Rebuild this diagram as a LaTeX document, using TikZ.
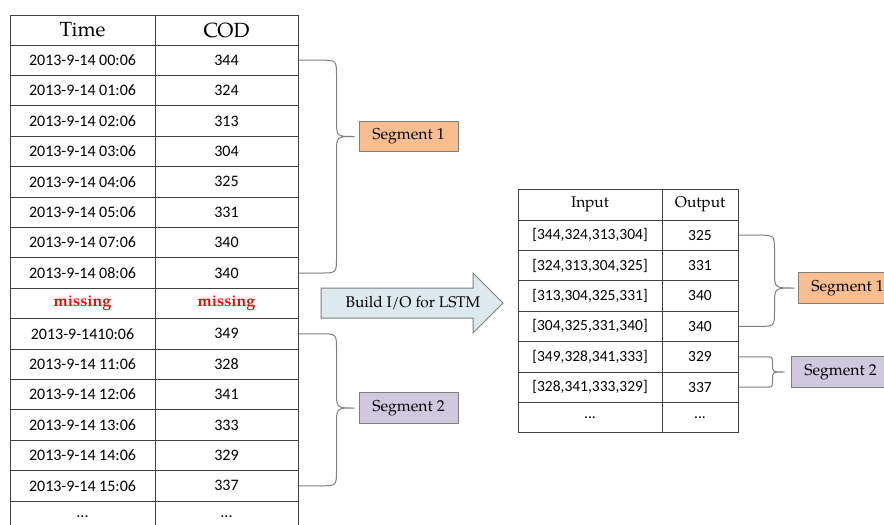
\documentclass[tikz,border=0pt]{standalone}
\usepackage{fontspec}
\setmainfont{Carlito}
\usetikzlibrary{calc}
% Palatino-like serif for headers and labels
\newfontfamily\palfont{TeX Gyre Pagella}

\definecolor{tablegray}{HTML}{404040}
\definecolor{braceline}{HTML}{7F7F7F}
\definecolor{segone}{HTML}{F9BE8F}
\definecolor{segtwo}{HTML}{CFC8DE}
\definecolor{arrowfill}{HTML}{DCE9EF}

\tikzset{
  cellbase/.style={draw=tablegray, line width=1pt, inner sep=0pt,
    minimum height=30.4pt, anchor=center, text=black},
  headcell/.style={cellbase, minimum height=30pt,
    font=\palfont\fontsize{20.5}{24}\selectfont},
  rheadcell/.style={cellbase, minimum height=31pt,
    font=\palfont\fontsize{15.5}{18}\selectfont},
  datcell/.style={cellbase, font=\fontsize{16}{19}\selectfont},
  rdatcell/.style={cellbase, font=\fontsize{15.5}{18}\selectfont},
  misscell/.style={cellbase, text=red,
    font=\palfont\bfseries\fontsize{16}{19}\selectfont},
  segbox/.style={draw=braceline, line width=1pt, inner sep=0pt,
    minimum width=99pt, minimum height=30.5pt,
    font=\palfont\fontsize{15.8}{19}\selectfont},
  segline/.style={draw=braceline, line width=1pt},
  arrowbody/.style={draw=braceline, line width=1pt, fill=arrowfill,
    line join=miter},
}

% curly brace from a top cell to a bottom cell, pointing at a segment box
% #1 top cell, #2 segment box, #3 bottom cell, #4 gap before box,
% #5 distance from spine to tip, #6 corner radius
\newcommand\segbrace[6]{%
  \draw[segline] let \p1=(#1.east), \p2=($(#2.west)+(-#4,0)$), \p3=(#3.east) in
    (\p1) -- (\x2-#5pt-#6pt,\y1)
      .. controls (\x2-#5pt,\y1) .. (\x2-#5pt,\y1-#6pt)
      -- (\x2-#5pt,\y2+#6pt)
      .. controls (\x2-#5pt,\y2) .. (\p2)
      .. controls (\x2-#5pt,\y2) .. (\x2-#5pt,\y2-#6pt)
      -- (\x2-#5pt,\y3+#6pt)
      .. controls (\x2-#5pt,\y3) .. (\x2-#5pt-#6pt,\y3)
      -- (\p3);}

\begin{document}
\begin{tikzpicture}[x=1pt, y=-1pt]
  \clip (0,0) rectangle (884,525);
  \fill[white] (0,0) rectangle (884,525);

  % ---- raw series table ----
  \node[headcell, minimum width=145pt] (Lth) at (82.5,30) {Time};
  \node[headcell, minimum width=143pt] (Lch) at (226.5,30) {COD};
  \foreach \tm/\cv/\st [count=\i from 0] in {
      2013-9-14 00:06/344/datcell, 2013-9-14 01:06/324/datcell,
      2013-9-14 02:06/313/datcell, 2013-9-14 03:06/304/datcell,
      2013-9-14 04:06/325/datcell, 2013-9-14 05:06/331/datcell,
      2013-9-14 07:06/340/datcell, 2013-9-14 08:06/340/datcell,
      missing/missing/misscell,    2013-9-1410:06/349/datcell,
      2013-9-14 11:06/328/datcell, 2013-9-14 12:06/341/datcell,
      2013-9-14 13:06/333/datcell, 2013-9-14 14:06/329/datcell,
      2013-9-14 15:06/337/datcell}
  {
    \node[\st, minimum width=145pt] (Lt\i) at (82.5,{60.2+30.4*\i}) {\tm};
    \node[\st, minimum width=143pt] (Lc\i) at (226.5,{60.2+30.4*\i}) {\cv};
  }
  \node[datcell, minimum width=145pt] (Lt15) at (82.5,516.2) {...};
  \node[datcell, minimum width=143pt] (Lc15) at (226.5,516.2) {...};

  % ---- segment labels on the left ----
  \node[segbox, fill=segone] (segA) at (408.5,136.5) {Segment 1};
  \node[segbox, fill=segtwo] (segB) at (408.5,408) {Segment 2};
  \segbrace{Lc0}{segA}{Lc7}{4}{18}{16}
  \segbrace{Lc9}{segB}{Lc14}{4}{18}{16}

  % ---- build arrow ----
  \draw[arrowbody] (321,288) -- (473,288) -- (473,273) -- (503,303)
    -- (473,333) -- (473,318) -- (321,318) -- cycle;
  \node[font=\palfont\fontsize{15.5}{18}\selectfont] (build) at (413,303)
    {Build I/O for LSTM};

  % ---- LSTM input/output table ----
  \node[rheadcell, minimum width=144pt] (Rih) at (590,204.5) {Input};
  \node[rheadcell, minimum width=76pt] (Roh) at (700,204.5) {Output};
  \node[rdatcell, minimum width=144pt] (Ri0) at (590,235.2) {[344,324,313,304]};
  \node[rdatcell, minimum width=76pt]  (Rc0) at (700,235.2) {325};
  \node[rdatcell, minimum width=144pt] (Ri1) at (590,265.6) {[324,313,304,325]};
  \node[rdatcell, minimum width=76pt]  (Rc1) at (700,265.6) {331};
  \node[rdatcell, minimum width=144pt] (Ri2) at (590,296.0) {[313,304,325,331]};
  \node[rdatcell, minimum width=76pt]  (Rc2) at (700,296.0) {340};
  \node[rdatcell, minimum width=144pt] (Ri3) at (590,326.4) {[304,325,331,340]};
  \node[rdatcell, minimum width=76pt]  (Rc3) at (700,326.4) {340};
  \node[rdatcell, minimum width=144pt] (Ri4) at (590,356.8) {[349,328,341,333]};
  \node[rdatcell, minimum width=76pt]  (Rc4) at (700,356.8) {329};
  \node[rdatcell, minimum width=144pt] (Ri5) at (590,387.2) {[328,341,333,329]};
  \node[rdatcell, minimum width=76pt]  (Rc5) at (700,387.2) {337};
  \node[rdatcell, minimum width=144pt] (Ri6) at (590,417.6) {...};
  \node[rdatcell, minimum width=76pt]  (Rc6) at (700,417.6) {...};

  % ---- segment labels on the right ----
  \node[segbox, fill=segone] (segC) at (847.5,288) {Segment 1};
  \node[segbox, fill=segtwo] (segD) at (840.5,372) {Segment 2};
  \segbrace{Rc0}{segC}{Rc3}{3}{20}{16}
  \segbrace{Rc4}{segD}{Rc5}{6}{12}{7}
\end{tikzpicture}
\end{document}
